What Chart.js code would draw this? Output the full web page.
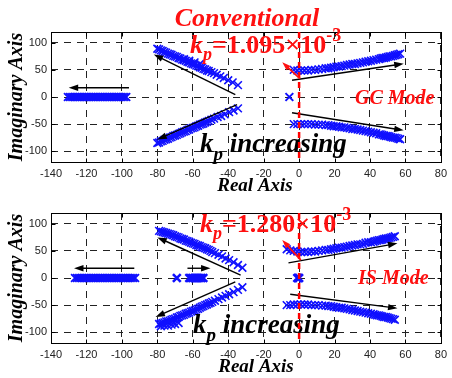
<!DOCTYPE html>
<html>
<head>
<meta charset="utf-8">
<script src="https://cdn.jsdelivr.net/npm/chart.js@4.4.0/dist/chart.umd.min.js"></script>
<style>
  html, body { margin: 0; padding: 0; background: #fff; }
  #wrap { position: relative; width: 452px; height: 378px; overflow: hidden; }
  #wrap canvas { position: absolute; left: 0; }
  #gc-chart { top: 0; }
  #is-chart { top: 190px; }
</style>
</head>
<body>
<div id="wrap">
  <canvas id="gc-chart" width="452" height="200"></canvas>
  <canvas id="is-chart" width="452" height="188"></canvas>
</div>
<script>
// axis ticks
var xTicks = [-140, -120, -100, -80, -60, -40, -20, 0, 20, 40, 60, 80];
var yTicks = [-100, -50, 0, 50, 100];

// ---- GC mode (conventional control) root loci, [real, imag] ----
var gcRealAxis = [-97.5, -98.5, -99.5, -100.5, -101.5, -102.5, -103.5, -104.5, -105.5, -106.5, -107.5, -108.5,
                  -109.5, -110.5, -111.5, -112.5, -113.5, -114.5, -115.5, -116.5, -117.5, -118.5, -119.5, -120.5,
                  -121.5, -122.5, -123.5, -124.5, -125.5, -126.5, -127.5, -128.5, -129.5, -130.5];
var gcPole = [[-5.5, 0]];
var gcUpperLeft = [[-34.5, 22], [-37.5, 27], [-40, 31], [-42.5, 35], [-44.5, 38], [-46.5, 41], [-48, 44], [-49.5, 46],
                   [-51, 48], [-52, 49], [-53, 51], [-54, 52], [-55, 54], [-56, 55], [-57, 57], [-58, 58], [-59, 60],
                   [-60, 61], [-61, 62], [-62, 64], [-63, 65], [-64, 67], [-65, 68], [-66, 69], [-67, 71], [-68, 72],
                   [-69, 74], [-70, 75], [-71, 76], [-72, 78], [-73, 79], [-74, 80], [-75, 82], [-76, 83], [-77, 85],
                   [-78, 86], [-79, 88], [-80, 89],
                   [-56, 61], [-59, 64], [-62, 67], [-65, 70]];
var gcLowerLeft = [[-34.5, -21], [-37, -25], [-39.5, -28], [-42, -32], [-44, -35], [-46, -37], [-48, -40], [-49.5, -42],
                   [-51, -44], [-52, -46], [-53, -47], [-54, -49], [-55, -50], [-56, -51], [-57, -53], [-58, -54],
                   [-59, -56], [-60, -57], [-61, -58], [-62, -60], [-63, -61], [-64, -63], [-65, -64], [-66, -65],
                   [-67, -67], [-68, -68], [-69, -70], [-70, -71], [-71, -72], [-72, -74], [-73, -75], [-74, -77],
                   [-75, -78], [-76, -79], [-77, -81], [-78, -82], [-79, -84], [-80, -85]];
var gcUpperRight = [[-3, 50], [-1, 49], [1, 49], [3, 49], [5, 49], [7, 50], [9, 50], [11, 51], [13, 52], [15, 53],
                    [16.5, 53], [18, 54], [19.5, 55], [21, 56], [22.5, 56], [24, 57], [25.5, 58], [27, 59], [28.5, 60],
                    [30, 61], [31.5, 61], [33, 62], [34.5, 63], [36, 64], [37.5, 65], [39, 66], [40.5, 67], [42, 68],
                    [43.5, 69], [45, 70], [46, 71], [47, 72], [48, 72], [49, 73], [50, 74], [51, 75], [52, 75],
                    [53, 76], [54, 77], [55, 78], [56, 79], [57, 80]];
var gcLowerRight = [[-3, -50], [-1, -50], [1, -50], [3, -50], [5, -50], [7, -50], [9, -51], [11, -51], [13, -51], [15, -52],
                    [16.5, -52], [18, -53], [19.5, -54], [21, -54], [22.5, -55], [24, -56], [25.5, -56], [27, -57],
                    [28.5, -58], [30, -59], [31.5, -59], [33, -60], [34.5, -61], [36, -62], [37.5, -63], [39, -64],
                    [40.5, -65], [42, -66], [43.5, -67], [45, -69], [46, -69], [47, -70], [48, -71], [49, -72],
                    [50, -72], [51, -73], [52, -74], [53, -75], [54, -75], [55, -76], [56, -77], [57, -78]];

// ---- IS mode root loci ----
var isRealAxis = [-92.5, -93.5, -94.5, -95.5, -96.5, -97.5, -98.5, -99.5, -100.5, -101.5, -102.5, -103.5,
                  -104.5, -105.5, -106.5, -107.5, -108.5, -109.5, -110.5, -111.5, -112.5, -113.5, -114.5, -115.5,
                  -116.5, -117.5, -118.5, -119.5, -120.5, -121.5, -122.5, -123.5, -124.5, -125.5, -126.5];
var isRealMid = [-54, -55, -56, -57, -58, -59, -60, -61, -62];
var isPoles = [[-69, 0], [-1, 0], [-0.5, 0], [0, 0]];
var isUpperLeft = [[-32, 19], [-34.5, 24], [-37, 29], [-39.5, 33], [-41.5, 36], [-43.5, 40], [-45.5, 43], [-47.5, 46],
                   [-49, 48], [-50, 50], [-51, 52], [-52, 53], [-53, 55], [-54, 56], [-55, 57], [-56, 59], [-57, 60],
                   [-58, 61], [-59, 63], [-60, 64], [-61, 65], [-62, 67], [-63, 68], [-64, 69], [-65, 71], [-66, 72],
                   [-67, 73], [-68, 75], [-69, 76], [-70, 77], [-71, 79], [-72, 80], [-73, 81], [-74, 82], [-75, 83],
                   [-76, 84], [-77, 85], [-78, 86], [-79, 87]];
var isLowerLeft = [[-32, -17], [-34.5, -22], [-37, -26], [-39.5, -30], [-41.5, -33], [-43.5, -36], [-45.5, -39],
                   [-47.5, -42], [-49, -44], [-50, -46], [-51, -47], [-52, -49], [-53, -50], [-54, -52], [-55, -53],
                   [-56, -55], [-57, -57], [-58, -58], [-59, -60], [-60, -61], [-61, -62], [-62, -64], [-63, -65],
                   [-64, -66], [-65, -68], [-66, -69], [-67, -70], [-68, -72], [-69, -73], [-70, -75], [-71, -76],
                   [-72, -77], [-73, -79], [-74, -80], [-75, -80], [-76, -82], [-77, -83], [-78, -84], [-79, -85],
                   [-78, -89], [-76, -88], [-74, -88], [-72, -86], [-70, -85], [-68, -83]];
var isUpperRight = [[-7, 53], [-5, 51], [-3, 50], [-1, 49], [1, 48], [3, 48], [5, 48], [7, 49], [9, 49], [11, 50],
                    [13, 51], [15, 52], [16.5, 52], [18, 53], [19.5, 54], [21, 55], [22.5, 56], [24, 56], [25.5, 57],
                    [27, 58], [28.5, 59], [30, 60], [31.5, 61], [33, 62], [34.5, 62], [36, 63], [37.5, 65], [39, 66],
                    [40.5, 66], [42, 67], [43, 68], [44, 69], [45, 70], [46, 70], [47, 71], [48, 72], [49, 73],
                    [50, 73], [51, 74], [52, 75], [53, 76], [54, 77]];
var isLowerRight = [[-7, -50], [-5, -50], [-3, -49], [-1, -49], [1, -49], [3, -49], [5, -49], [7, -50], [9, -50],
                    [11, -50], [13, -51], [15, -51], [16.5, -52], [18, -52], [19.5, -53], [21, -54], [22.5, -55],
                    [24, -55], [25.5, -56], [27, -57], [28.5, -58], [30, -59], [31.5, -60], [33, -61], [34.5, -62],
                    [36, -63], [37.5, -64], [39, -65], [40.5, -66], [42, -67], [43, -68], [44, -69], [45, -69],
                    [46, -70], [47, -71], [48, -72], [49, -72], [50, -73], [51, -74], [52, -75], [53, -76], [54, -77]];

// direction arrows [x1, y1, x2, y2] in axis units
var gcArrows = [[-96, 17, -130, 17], [-36, 4.5, -82, 78.5], [-35, -14, -80, -78.5], [-4, 31, 59, 61.5], [-4, -29, 59, -61.5]];
var gcKpArrow = [0.5, 34, -9.5, 64];
var isArrows = [[-93, 18, -127, 18], [-63, 18, -50, 18], [-33, 5.5, -80, 75], [-36, -7, -81, -72], [-6, 28, 55.5, 64], [-5, -30, 55.5, -56]];
var isKpArrow = [1, 33, -9.5, 70];

var locusBlue = '#1010ff';
var red = '#ff1010';
var serif = '"Liberation Serif", "Times New Roman", serif';

function toXY(list) {
    return list.map(function (p) { return { x: p[0], y: p[1] }; });
}
function onRealAxis(list) {
    return list.map(function (v) { return { x: v, y: 0 }; });
}
function crosses(points, width) {
    return {
        data: points,
        pointStyle: 'crossRot',
        pointRadius: 5.5,
        borderWidth: width || 1.6,
        borderColor: locusBlue,
        backgroundColor: locusBlue,
        showLine: false
    };
}

function arrow(ctx, x1, y1, x2, y2, color, width, head) {
    var ang = Math.atan2(y2 - y1, x2 - x1);
    ctx.strokeStyle = color;
    ctx.fillStyle = color;
    ctx.lineWidth = width;
    ctx.setLineDash([]);
    ctx.beginPath();
    ctx.moveTo(x1, y1);
    ctx.lineTo(x2 - Math.cos(ang) * head * 0.7, y2 - Math.sin(ang) * head * 0.7);
    ctx.stroke();
    ctx.beginPath();
    ctx.moveTo(x2, y2);
    ctx.lineTo(x2 - head * Math.cos(ang - 0.33), y2 - head * Math.sin(ang - 0.33));
    ctx.lineTo(x2 - head * Math.cos(ang + 0.33), y2 - head * Math.sin(ang + 0.33));
    ctx.closePath();
    ctx.fill();
}

// text runs with italic / sub / sup pieces
function drawRich(ctx, x, y, parts, size, color) {
    ctx.fillStyle = color;
    ctx.textAlign = 'left';
    ctx.textBaseline = 'alphabetic';
    parts.forEach(function (p) {
        var s = (p.sub || p.sup) ? Math.round(size * 0.7) : size;
        ctx.font = (p.italic ? 'italic ' : '') + 'bold ' + s + 'px ' + serif;
        var dy = p.sub ? size * 0.28 : (p.sup ? -size * 0.45 : 0);
        ctx.fillText(p.t, x, y + dy);
        x += ctx.measureText(p.t).width;
    });
}

var locusNotes = {
    id: 'locusNotes',
    afterDatasetsDraw: function (chart, args, opts) {
        var ctx = chart.ctx, area = chart.chartArea;
        var xs = chart.scales.x, ys = chart.scales.y;
        var L = Math.round(area.left) + 0.5, T = Math.round(area.top) + 0.5;
        var R = Math.round(area.right) + 0.5, B = Math.round(area.bottom) + 0.5;
        ctx.save();

        // box and inward ticks
        ctx.strokeStyle = '#000';
        ctx.lineWidth = 1;
        ctx.setLineDash([]);
        ctx.strokeRect(L, T, R - L, B - T);
        ctx.beginPath();
        xTicks.forEach(function (v) {
            var px = Math.round(xs.getPixelForValue(v)) + 0.5;
            ctx.moveTo(px, B); ctx.lineTo(px, B - 4);
            ctx.moveTo(px, T); ctx.lineTo(px, T + 4);
        });
        yTicks.forEach(function (v) {
            var py = Math.round(ys.getPixelForValue(v)) + 0.5;
            ctx.moveTo(L, py); ctx.lineTo(L + 4, py);
            ctx.moveTo(R, py); ctx.lineTo(R - 4, py);
        });
        ctx.stroke();

        opts.arrows.forEach(function (a) {
            arrow(ctx, xs.getPixelForValue(a[0]), ys.getPixelForValue(a[1]),
                xs.getPixelForValue(a[2]), ys.getPixelForValue(a[3]), '#000', 1.4, 10);
        });

        drawRich(ctx, opts.inc[0], opts.inc[1], [
            { t: 'k', italic: true }, { t: 'p', italic: true, sub: true }, { t: ' increasing', italic: true }
        ], 27, '#000');

        // imaginary-axis crossing
        var zx = xs.getPixelForValue(0);
        ctx.strokeStyle = '#ff0000';
        ctx.lineWidth = 2.5;
        ctx.setLineDash([6, 4]);
        ctx.beginPath();
        ctx.moveTo(zx, area.top);
        ctx.lineTo(zx, area.bottom);
        ctx.stroke();

        var k = opts.kpArrow;
        arrow(ctx, xs.getPixelForValue(k[0]), ys.getPixelForValue(k[1]),
            xs.getPixelForValue(k[2]), ys.getPixelForValue(k[3]), red, 1.8, 9);

        drawRich(ctx, opts.kp[0], opts.kp[1], [
            { t: 'k', italic: true }, { t: 'p', italic: true, sub: true }, { t: '=' + opts.kpValue + '\u00d710' }, { t: '-3', sup: true }
        ], 26, red);

        drawRich(ctx, opts.mode[0], opts.mode[1], [{ t: opts.modeText, italic: true }], 20, red);

        if (opts.title) {
            ctx.font = 'italic bold 26px ' + serif;
            ctx.fillStyle = red;
            ctx.textAlign = 'center';
            ctx.fillText(opts.title[0], opts.title[1], opts.title[2]);
        }

        // axis titles
        ctx.fillStyle = '#000';
        ctx.font = 'italic bold 19px ' + serif;
        ctx.textAlign = 'center';
        ctx.textBaseline = 'alphabetic';
        ctx.fillText('Real Axis', opts.realAxis[0], opts.realAxis[1]);
        ctx.translate(opts.imagAxis[0], opts.imagAxis[1]);
        ctx.rotate(-Math.PI / 2);
        ctx.font = 'italic bold 20px ' + serif;
        ctx.textBaseline = 'middle';
        ctx.fillText('Imaginary Axis', 0, 0);

        ctx.restore();
    }
};

function locusChart(id, datasets, notes, topPad, xHeight) {
    return new Chart(document.getElementById(id).getContext('2d'), {
        type: 'scatter',
        data: { datasets: datasets },
        options: {
            responsive: false,
            animation: false,
            layout: { padding: { top: topPad, right: 8, bottom: 0, left: 0 } },
            plugins: {
                legend: { display: false },
                tooltip: { enabled: false },
                locusNotes: notes
            },
            scales: {
                x: {
                    min: -140, max: 80,
                    afterBuildTicks: function (s) { s.ticks = xTicks.map(function (v) { return { value: v }; }); },
                    afterFit: function (s) { s.height = xHeight; },
                    grid: { color: '#222', lineWidth: 1, drawTicks: false },
                    border: { display: false, dash: [7, 6] },
                    ticks: { padding: 5, maxRotation: 0, color: '#222', font: { family: '"Liberation Sans", Arial, sans-serif', size: 11 } }
                },
                y: {
                    min: -120, max: 120,
                    afterBuildTicks: function (s) { s.ticks = yTicks.map(function (v) { return { value: v }; }); },
                    afterFit: function (s) { s.width = 51; },
                    grid: { color: '#222', lineWidth: 1, drawTicks: false },
                    border: { display: false, dash: [7, 6] },
                    ticks: { padding: 4, color: '#222', font: { family: '"Liberation Sans", Arial, sans-serif', size: 11 } }
                }
            }
        },
        plugins: [locusNotes]
    });
}

var gcChart = locusChart('gc-chart', [
    crosses(onRealAxis(gcRealAxis)),
    crosses(toXY(gcUpperLeft)),
    crosses(toXY(gcLowerLeft)),
    crosses(toXY(gcUpperRight)),
    crosses(toXY(gcLowerRight)),
    crosses(toXY(gcPole), 2)
], {
    arrows: gcArrows,
    kpArrow: gcKpArrow,
    kpValue: '1.095',
    kp: [190, 53],
    inc: [200, 152],
    mode: [355, 104],
    modeText: 'GC Mode',
    title: ['Conventional', 247, 26],
    realAxis: [255, 191],
    imagAxis: [17, 97]
}, 32, 38);

var isChart = locusChart('is-chart', [
    crosses(onRealAxis(isRealAxis)),
    crosses(onRealAxis(isRealMid), 2.2),
    crosses(toXY(isPoles), 2.6),
    crosses(toXY(isUpperLeft)),
    crosses(toXY(isLowerLeft)),
    crosses(toXY(isUpperRight)),
    crosses(toXY(isLowerRight))
], {
    arrows: isArrows,
    kpArrow: isKpArrow,
    kpValue: '1.280',
    kp: [200, 42],
    inc: [193, 143],
    mode: [358, 94],
    modeText: 'IS Mode',
    title: null,
    realAxis: [256, 182],
    imagAxis: [17, 88]
}, 23, 35);
</script>
</body>
</html>
